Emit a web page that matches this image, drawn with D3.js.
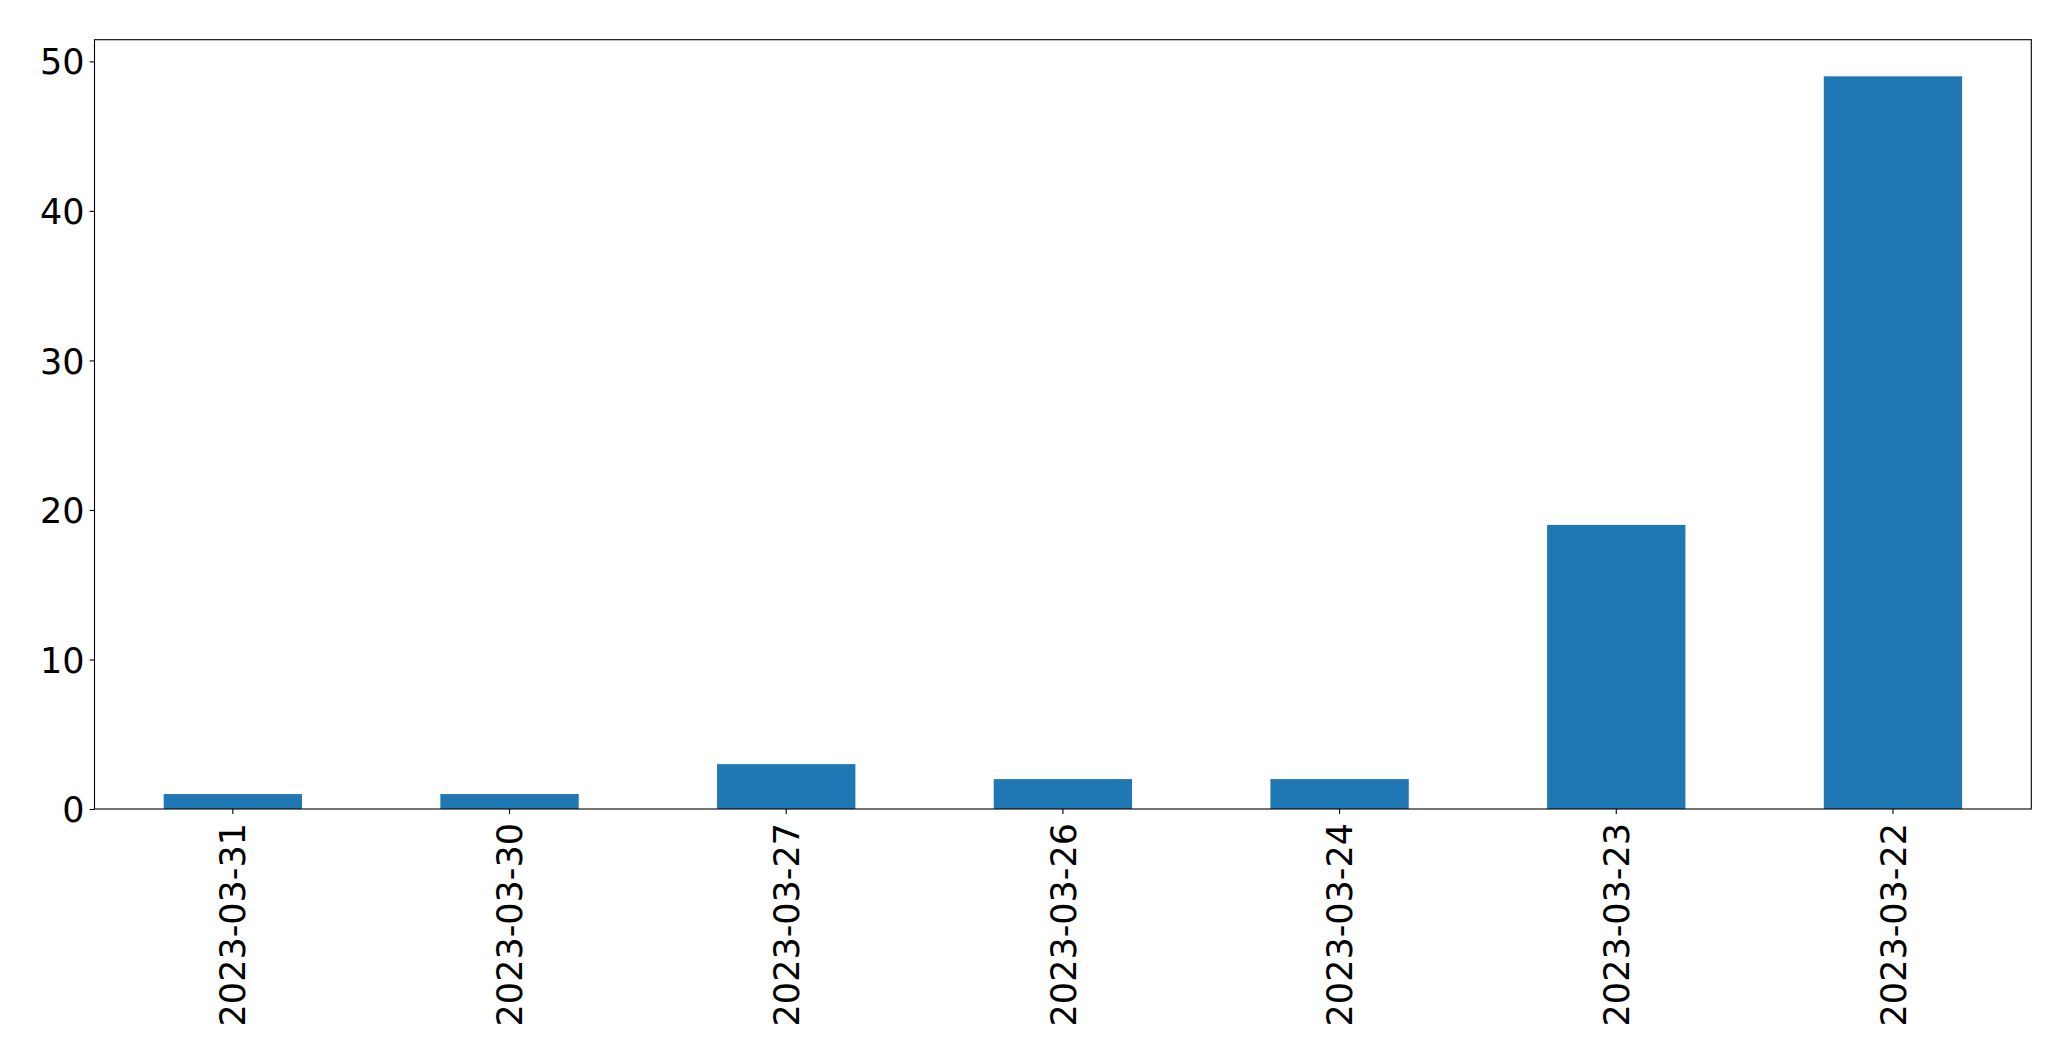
<!DOCTYPE html>
<html><head><meta charset="utf-8">
<script src="https://cdn.jsdelivr.net/npm/d3@7"></script>
<style>body{margin:0;background:#fff}svg{display:block}text{font-family:"DejaVu Sans",sans-serif;fill:#000}</style>
</head><body>
<script>
const categories = ["2023-03-31","2023-03-30","2023-03-27","2023-03-26","2023-03-24","2023-03-23","2023-03-22"];
const values = [1,1,3,2,2,19,49];
const yTicks = [0,10,20,30,40,50];

const W = 2071, H = 1061;
const m = {left: 94.5, right: 2031.3, top: 39.7, bottom: 809};
const svg = d3.select("body").append("svg").attr("width", W).attr("height", H);

const x = d3.scaleBand().domain(categories).range([m.left, m.right]).paddingInner(0.5).paddingOuter(0.25);
const y = d3.scaleLinear().domain([0, d3.max(values) * 1.05]).range([m.bottom, m.top]);

svg.append("g").selectAll("rect").data(values).join("rect")
  .attr("x", (d, i) => x(categories[i]))
  .attr("y", d => y(d))
  .attr("width", x.bandwidth())
  .attr("height", d => y(0) - y(d))
  .attr("fill", "#1f77b4");

const fs = 35;
const yAxis = svg.append("g").attr("transform", `translate(${m.left},0)`)
  .call(d3.axisLeft(y).tickValues(yTicks).tickSize(4.9).tickPadding(5));
yAxis.select(".domain").remove();
yAxis.selectAll("text").style("font-size", fs + "px").attr("font-family", null).attr("dy", "0.36em");
yAxis.selectAll("line").attr("stroke", "#000").attr("stroke-width", 1.1);

const xAxis = svg.append("g").attr("transform", `translate(0,${m.bottom})`)
  .call(d3.axisBottom(x).tickSize(4.9).tickPadding(7));
xAxis.select(".domain").remove();
xAxis.selectAll("line").attr("stroke", "#000").attr("stroke-width", 1.1);
xAxis.selectAll("text").style("font-size", fs + "px").attr("font-family", null)
  .attr("text-anchor", "end").attr("transform", "rotate(-90)")
  .attr("x", -14).attr("y", 0).attr("dy", "0.36em");

svg.append("rect").attr("x", m.left).attr("y", m.top)
  .attr("width", m.right - m.left).attr("height", m.bottom - m.top)
  .attr("fill", "none").attr("stroke", "#000").attr("stroke-width", 1.1);
</script>
</body></html>
